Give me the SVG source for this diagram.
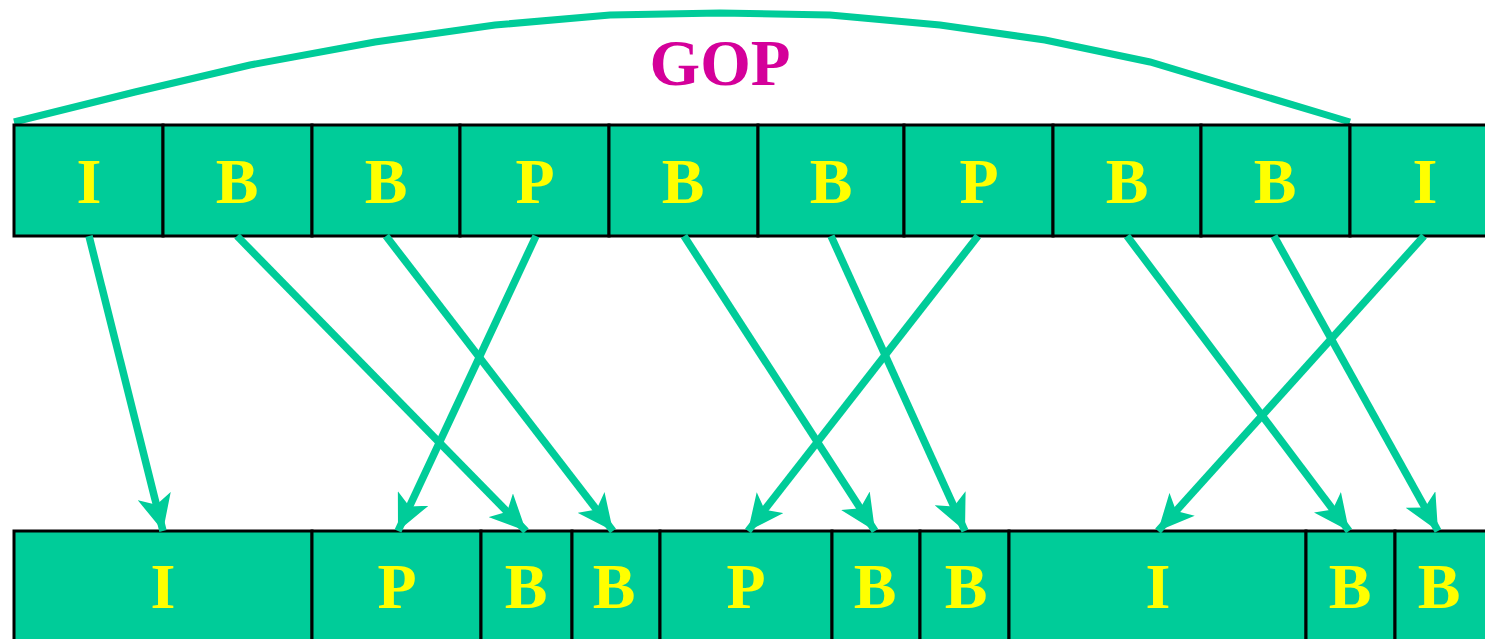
<svg xmlns="http://www.w3.org/2000/svg" width="1485" height="639" viewBox="0 0 1485 639">
<style>
.box{fill:#00CC99;stroke:#000;stroke-width:3}
.lbl{font-family:"Liberation Serif","Times New Roman",serif;font-weight:bold;font-size:64px;fill:#FFFF00;text-anchor:middle}
.conn{stroke:#00CC99;stroke-width:7.5;fill:none;marker-end:url(#ah)}
</style>
<defs>
<marker id="ah" markerUnits="userSpaceOnUse" viewBox="0 0 36 34" refX="36" refY="17" markerWidth="36" markerHeight="34" orient="auto">
<path d="M0,0 L36,17 L0,34 L9,17 Z" fill="#00CC99"/>
</marker>
</defs>
<rect width="1485" height="639" fill="#fff"/>
<g id="gop">
<polyline points="14,122 135,92 250,65 375,42 495,25 610,15 720,13 830,15 940,25 1045,40 1150,62 1250,92 1350,122" fill="none" stroke="#00CC99" stroke-width="7"/>
<text x="720" y="85" font-family="Liberation Serif, Times New Roman, serif" font-weight="bold" font-size="65" fill="#D4009A" text-anchor="middle">GOP</text>
</g>
<g id="top-row">
<g id="t1"><rect class="box" x="14" y="125" width="149" height="111"/><text class="lbl" x="89" y="203">I</text></g>
<g id="t2"><rect class="box" x="163" y="125" width="149" height="111"/><text class="lbl" x="237" y="203">B</text></g>
<g id="t3"><rect class="box" x="312" y="125" width="148" height="111"/><text class="lbl" x="386" y="203">B</text></g>
<g id="t4"><rect class="box" x="460" y="125" width="149" height="111"/><text class="lbl" x="535" y="203">P</text></g>
<g id="t5"><rect class="box" x="609" y="125" width="149" height="111"/><text class="lbl" x="683" y="203">B</text></g>
<g id="t6"><rect class="box" x="758" y="125" width="146" height="111"/><text class="lbl" x="831" y="203">B</text></g>
<g id="t7"><rect class="box" x="904" y="125" width="149" height="111"/><text class="lbl" x="979" y="203">P</text></g>
<g id="t8"><rect class="box" x="1053" y="125" width="148" height="111"/><text class="lbl" x="1127" y="203">B</text></g>
<g id="t9"><rect class="box" x="1201" y="125" width="149" height="111"/><text class="lbl" x="1275" y="203">B</text></g>
<g id="t10"><rect class="box" x="1350" y="125" width="150" height="111"/><text class="lbl" x="1425" y="203">I</text></g>
</g>
<g id="bottom-row">
<g id="b1"><rect class="box" x="14" y="531" width="298" height="120"/><text class="lbl" x="163" y="608">I</text></g>
<g id="b2"><rect class="box" x="312" y="531" width="169" height="120"/><text class="lbl" x="397" y="608">P</text></g>
<g id="b3"><rect class="box" x="481" y="531" width="91" height="120"/><text class="lbl" x="526" y="608">B</text></g>
<g id="b4"><rect class="box" x="572" y="531" width="88" height="120"/><text class="lbl" x="614" y="608">B</text></g>
<g id="b5"><rect class="box" x="660" y="531" width="172" height="120"/><text class="lbl" x="746" y="608">P</text></g>
<g id="b6"><rect class="box" x="832" y="531" width="88" height="120"/><text class="lbl" x="875" y="608">B</text></g>
<g id="b7"><rect class="box" x="920" y="531" width="89" height="120"/><text class="lbl" x="966" y="608">B</text></g>
<g id="b8"><rect class="box" x="1009" y="531" width="297" height="120"/><text class="lbl" x="1158" y="608">I</text></g>
<g id="b9"><rect class="box" x="1306" y="531" width="89" height="120"/><text class="lbl" x="1350" y="608">B</text></g>
<g id="b10"><rect class="box" x="1395" y="531" width="100" height="120"/><text class="lbl" x="1439" y="608">B</text></g>
</g>
<g id="connectors">
<line class="conn" x1="89" y1="236" x2="163" y2="531"/>
<line class="conn" x1="237" y1="236" x2="526" y2="531"/>
<line class="conn" x1="386" y1="236" x2="613" y2="531"/>
<line class="conn" x1="536" y1="236" x2="398" y2="531"/>
<line class="conn" x1="684" y1="236" x2="875" y2="531"/>
<line class="conn" x1="831" y1="236" x2="965" y2="531"/>
<line class="conn" x1="978" y1="236" x2="748" y2="531"/>
<line class="conn" x1="1127" y1="236" x2="1349" y2="531"/>
<line class="conn" x1="1274" y1="236" x2="1438" y2="531"/>
<line class="conn" x1="1424" y1="236" x2="1158" y2="531"/>
</g>
</svg>
